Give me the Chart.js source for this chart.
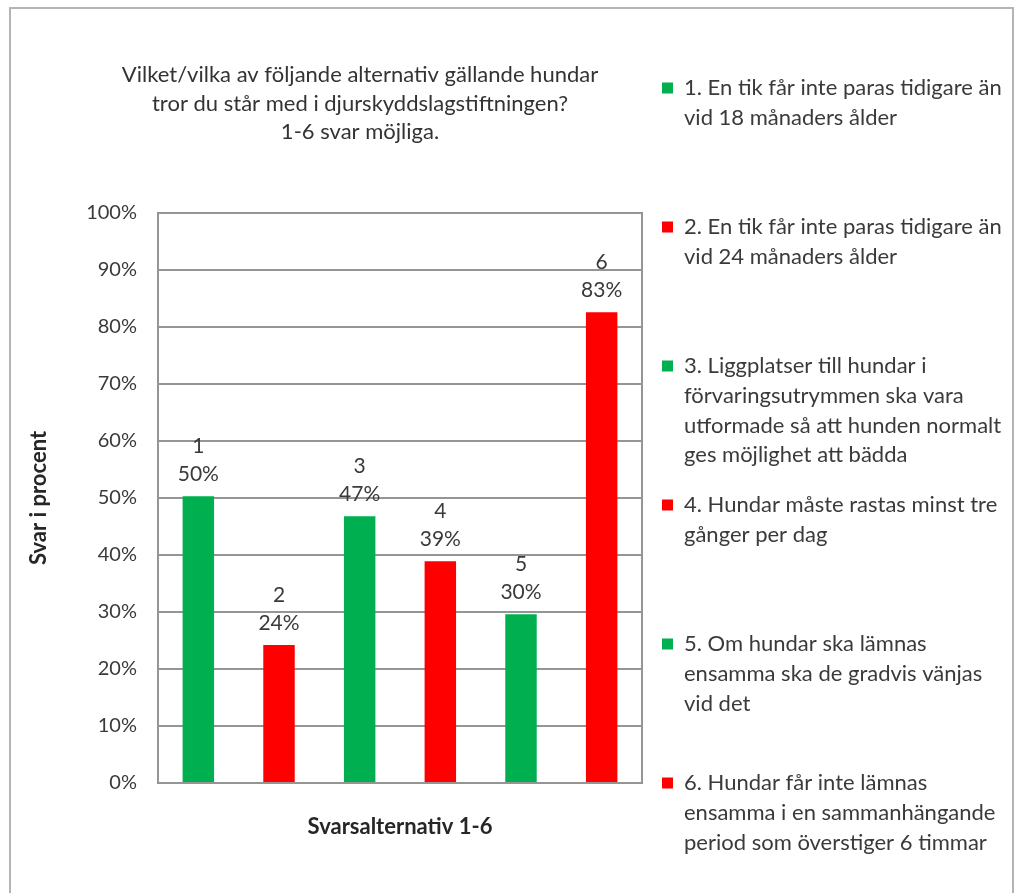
<!DOCTYPE html>
<html>
<head>
<meta charset="utf-8">
<script src="https://cdn.jsdelivr.net/npm/chart.js@4.4.1/dist/chart.umd.min.js"></script>
<style>
html,body{margin:0;padding:0;background:#fff;}
#wrap{width:1020px;height:893px;position:relative;}
</style>
</head>
<body>
<div id="wrap"><canvas id="c" width="1020" height="893"></canvas></div>
<script>
// ---- data ----
const categories = ['1', '2', '3', '4', '5', '6'];
const values = [50.3, 24.2, 46.8, 38.9, 29.6, 82.6];
const barColors = ['#00B050', '#FF0000', '#00B050', '#FF0000', '#00B050', '#FF0000'];
const legendLabels = [
  ['1. En tik får inte paras tidigare än', 'vid 18 månaders ålder'],
  ['2. En tik får inte paras tidigare än', 'vid 24 månaders ålder'],
  ['3. Liggplatser till hundar i', 'förvaringsutrymmen ska vara', 'utformade så att hunden normalt', 'ges möjlighet att bädda'],
  ['4. Hundar måste rastas minst tre', 'gånger per dag'],
  ['5. Om hundar ska lämnas', 'ensamma ska de gradvis vänjas', 'vid det'],
  ['6. Hundar får inte lämnas', 'ensamma i en sammanhängande', 'period som överstiger 6 timmar']
];
const titleLines = ['Vilket/vilka av följande alternativ gällande hundar', 'tror du står med i djurskyddslagstiftningen?', '1-6 svar möjliga.'];
const yTickLabels = ['0%', '10%', '20%', '30%', '40%', '50%', '60%', '70%', '80%', '90%', '100%'];
const yTitle = 'Svar i procent';
const xTitle = 'Svarsalternativ 1-6';

const FONT = 'Lato';
const GRID = '#959595';
const TEXT = '#3a3a3a';

// one dataset per answer so each gets its own legend entry
const datasets = values.map((v, i) => ({
  label: legendLabels[i].join(' '),
  data: values.map((w, j) => (j === i ? w : null)),
  backgroundColor: barColors[i],
  borderWidth: 0,
  grouped: false,
  barPercentage: 0.39,
  categoryPercentage: 1.0
}));

function padLines(lines, n) {
  const out = lines.slice();
  while (out.length < n) out.push('');
  return out;
}

const framePlugin = {
  id: 'frame',
  beforeDraw(chart) {
    const ctx = chart.ctx;
    ctx.save();
    ctx.fillStyle = '#ffffff';
    ctx.fillRect(0, 0, chart.width, chart.height);
    ctx.strokeStyle = '#b4b4b4';
    ctx.lineWidth = 2;
    ctx.beginPath();
    ctx.moveTo(10, chart.height);
    ctx.lineTo(10, 8);
    ctx.lineTo(1013, 8);
    ctx.lineTo(1013, chart.height);
    ctx.stroke();
    ctx.restore();
  },
  afterLayout(chart) {
    const t = chart.titleBlock;
    if (t) {
      t.left = chart.chartArea.left - 80;
      t.right = chart.chartArea.right;
      t.width = t.right - t.left;
    }
  },
  beforeDatasetsDraw(chart) {
    const a = chart.chartArea;
    const ctx = chart.ctx;
    ctx.save();
    ctx.strokeStyle = GRID;
    ctx.lineWidth = 2;
    ctx.strokeRect(a.left, a.top, a.right - a.left, a.bottom - a.top);
    ctx.restore();
  },
  afterDatasetsDraw(chart) {
    const ctx = chart.ctx;
    ctx.save();
    ctx.fillStyle = TEXT;
    ctx.font = '21px ' + FONT;
    ctx.textAlign = 'center';
    ctx.textBaseline = 'middle';
    chart.data.datasets.forEach((ds, i) => {
      const el = chart.getDatasetMeta(i).data[i];
      if (!el) return;
      ctx.fillText(categories[i], el.x, el.y - 50);
      ctx.fillText(Math.round(values[i]) + '%', el.x, el.y - 22);
    });
    ctx.restore();
  }
};

new Chart(document.getElementById('c'), {
  type: 'bar',
  data: { labels: categories, datasets: datasets },
  plugins: [framePlugin],
  options: {
    responsive: false,
    animation: false,
    devicePixelRatio: 1,
    layout: { padding: { top: 57, right: 10, bottom: 0, left: 10 } },
    scales: {
      x: {
        type: 'category',
        offset: true,
        ticks: { display: false },
        grid: { display: false, drawTicks: false },
        border: { display: true, color: GRID, width: 2 },
        title: {
          display: true,
          text: xTitle,
          color: '#262626',
          font: { family: FONT, size: 22, weight: 'bold' },
          padding: { top: 0, bottom: 53 }
        },
        afterFit(s) { s.height = 110; }
      },
      y: {
        min: 0,
        max: 100,
        ticks: {
          stepSize: 10,
          padding: 21,
          color: TEXT,
          font: { family: FONT, size: 20 },
          callback: (v, i) => yTickLabels[i]
        },
        grid: { color: GRID, lineWidth: 2, drawTicks: false },
        border: { display: true, color: GRID, width: 2 },
        title: {
          display: true,
          text: yTitle,
          color: '#262626',
          font: { family: FONT, size: 22, weight: 'bold' },
          padding: { top: 16, bottom: 0 }
        },
        afterFit(s) { s.width = 148; }
      }
    },
    plugins: {
      tooltip: { enabled: false },
      title: {
        display: true,
        fullSize: false,
        text: titleLines,
        color: '#333333',
        font: { family: FONT, size: 22, weight: 'normal', lineHeight: '28.5px' },
        padding: { top: 3.75, bottom: 66.75 }
      },
      legend: {
        display: true,
        position: 'right',
        align: 'start',
        maxWidth: 368,
        labels: {
          boxWidth: 11,
          boxHeight: 11,
          padding: 20,
          color: TEXT,
          font: { family: FONT, size: 22, lineHeight: '29.75px' },
          generateLabels: (chart) => chart.data.datasets.map((ds, i) => ({
            text: i < legendLabels.length - 1 ? padLines(legendLabels[i], 4) : legendLabels[i],
            fillStyle: ds.backgroundColor,
            strokeStyle: ds.backgroundColor,
            lineWidth: 0,
            hidden: false,
            datasetIndex: i,
            fontColor: TEXT
          }))
        }
      }
    }
  }
});
</script>
</body>
</html>
